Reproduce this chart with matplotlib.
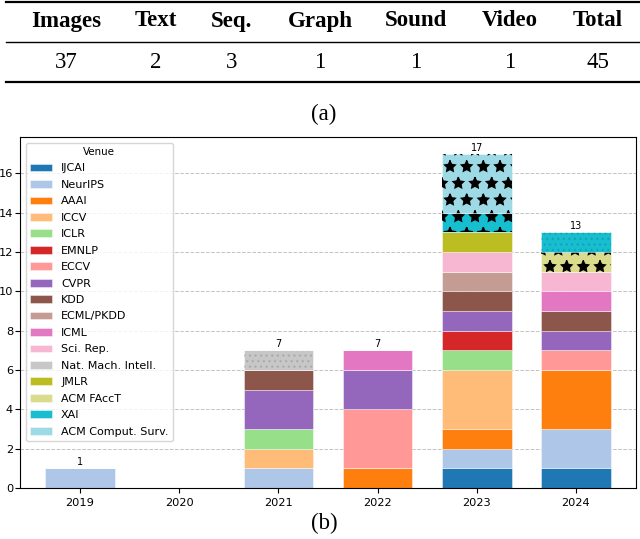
import numpy as np
import matplotlib
matplotlib.use("Agg")
import matplotlib.pyplot as plt
from matplotlib.lines import Line2D

W, H = 640, 539

# table (a)
table_cols = ['Images', 'Text', 'Seq.', 'Graph', 'Sound', 'Video', 'Total']
table_vals = ['37', '2', '3', '1', '1', '1', '45']

# chart (b)
years = ['2019', '2020', '2021', '2022', '2023', '2024']
venues = ['IJCAI', 'NeurIPS', 'AAAI', 'ICCV', 'ICLR', 'EMNLP', 'ECCV', 'CVPR',
          'KDD', 'ECML/PKDD', 'ICML', 'Sci. Rep.', 'Nat. Mach. Intell.', 'JMLR',
          'ACM FAccT', 'XAI', 'ACM Comput. Surv.']
counts = {
    'IJCAI':              [0, 0, 0, 0, 1, 1],
    'NeurIPS':            [1, 0, 1, 0, 1, 2],
    'AAAI':               [0, 0, 0, 1, 1, 3],
    'ICCV':               [0, 0, 1, 0, 3, 0],
    'ICLR':               [0, 0, 1, 0, 1, 0],
    'EMNLP':              [0, 0, 0, 0, 1, 0],
    'ECCV':               [0, 0, 0, 3, 0, 1],
    'CVPR':               [0, 0, 2, 2, 1, 1],
    'KDD':                [0, 0, 1, 0, 1, 1],
    'ECML/PKDD':          [0, 0, 0, 0, 1, 0],
    'ICML':               [0, 0, 0, 1, 0, 1],
    'Sci. Rep.':          [0, 0, 0, 0, 1, 1],
    'Nat. Mach. Intell.': [0, 0, 1, 0, 0, 0],
    'JMLR':               [0, 0, 0, 0, 1, 0],
    'ACM FAccT':          [0, 0, 0, 0, 0, 1],
    'XAI':                [0, 0, 0, 0, 1, 1],
    'ACM Comput. Surv.':  [0, 0, 0, 0, 3, 0],
}
# tab20 slot for each venue
color_idx = [0, 1, 2, 3, 5, 6, 7, 8, 10, 11, 12, 13, 15, 16, 17, 18, 19]
# hatched segments (venue, year)
star_segments = [('XAI', '2023'), ('ACM Comput. Surv.', '2023'), ('ACM FAccT', '2024')]
dot_segments = [('Nat. Mach. Intell.', '2021'), ('XAI', '2024')]

fig = plt.figure(figsize=(W / 100, H / 100), dpi=100)


def fy(y):
    return 1 - y / H


def fx(x):
    return x / W


# ---- table ----
serif = 'Liberation Serif'
col_x = [66, 156, 232, 320, 416, 510, 598]
for x, c, v in zip(col_x, table_cols, table_vals):
    fig.text(fx(x), fy(21), c, ha='center', va='center', fontsize=16.5,
             fontweight='bold', family=serif)
    fig.text(fx(x), fy(62), v, ha='center', va='center', fontsize=16.5, family=serif)
for y, lw in [(1.5, 1.6), (42, 1.0), (82, 1.6)]:
    fig.add_artist(Line2D([fx(6), fx(640)], [fy(y), fy(y)], transform=fig.transFigure,
                          color='black', linewidth=lw))
fig.text(fx(324), fy(114), '(a)', ha='center', va='center', fontsize=16.5, family=serif)
fig.text(fx(324), fy(523), '(b)', ha='center', va='center', fontsize=16.5, family=serif)

# ---- stacked bars ----
ax = fig.add_axes([20 / W, 1 - 488 / H, 616 / W, (488 - 137) / H])
tab20 = plt.get_cmap('tab20').colors
x = np.arange(len(years))
bottom = np.zeros(len(years))
for i, v in enumerate(venues):
    vals = np.array(counts[v], dtype=float)
    ax.bar(x, vals, 0.7, bottom=bottom, color=tab20[color_idx[i]], label=v,
           edgecolor=(1, 1, 1, 0.5), linewidth=0.6)
    for j, yr in enumerate(years):
        if vals[j] == 0:
            continue
        if (v, yr) in star_segments:
            ax.bar(x[j], vals[j], 0.7, bottom=bottom[j], facecolor='none',
                   edgecolor='black', linewidth=0, hatch='*')
        elif (v, yr) in dot_segments:
            ax.bar(x[j], vals[j], 0.7, bottom=bottom[j], facecolor='none',
                   edgecolor=(0, 0, 0, 0.1), linewidth=0, hatch='...')
    bottom += vals

for j, t in enumerate(bottom):
    if t > 0:
        ax.text(x[j], t + 0.05, f'{int(t)}', ha='center', va='bottom', fontsize=7)

ax.set_xticks(x)
ax.set_xticklabels(years, fontsize=8.2)
ax.set_yticks(np.arange(0, 17, 2))
ax.tick_params(axis='y', labelsize=8.2, pad=1.5)
ax.set_xlim(-0.605, 5.605)
ax.set_ylim(0, 17.85)
ax.grid(axis='y', linestyle='--', color='0.7', linewidth=0.7, alpha=0.8)
ax.set_axisbelow(True)
ax.legend(title='Venue', loc='upper left', fontsize=8, title_fontsize=7.4,
          labelspacing=0.58)

fig.savefig('out.png', dpi=100)
